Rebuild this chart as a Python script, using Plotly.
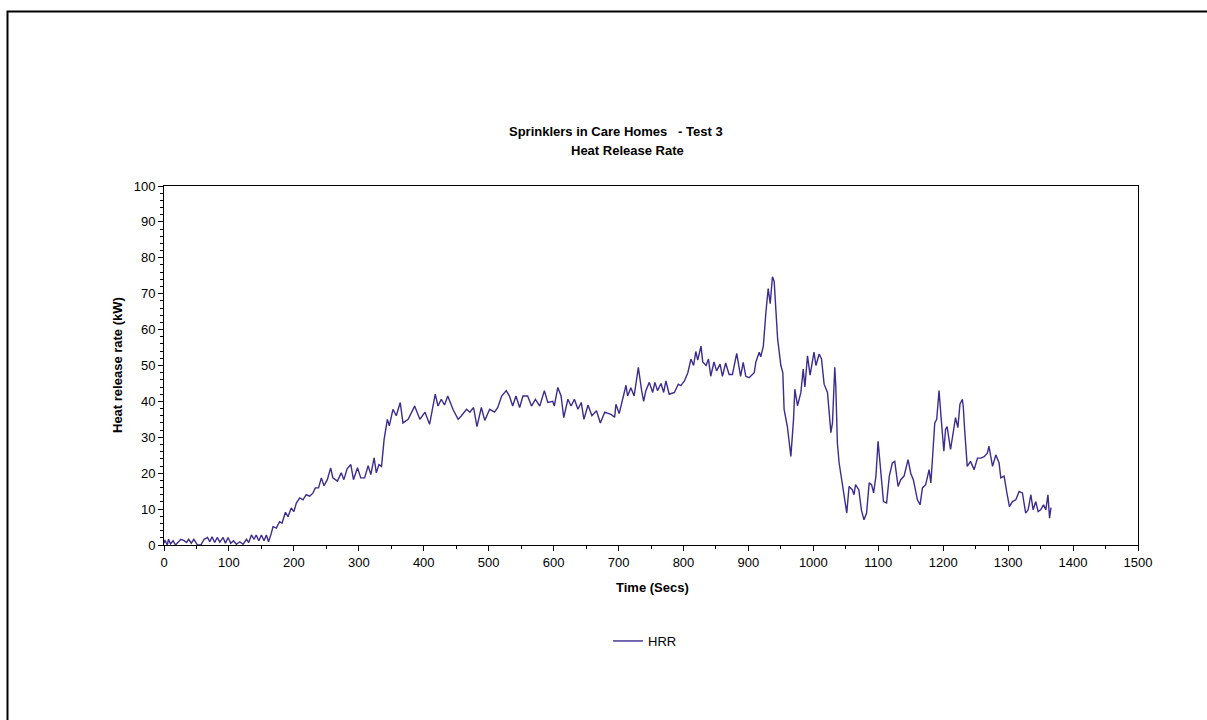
import plotly.graph_objects as go

time = [0, 1.3, 5, 7, 10, 14, 17.7, 26, 31, 34.6, 38, 42, 46, 51.6, 56.7, 61.8, 67, 70.5, 74, 78, 82, 86, 91, 94.6,
        98.7, 102.8, 107, 111.5, 116.7, 121.8, 127, 130.5, 134.6, 138.7, 142, 146, 150, 154, 157.7, 161, 165,
        167.9, 173, 178, 181.8, 187, 191, 196, 200, 203.8, 209, 214, 219, 224.4, 229.5, 233, 238, 242.3, 246.4,
        251.5, 256.7, 260, 267, 273, 277, 282, 287.7, 291.8, 298, 303, 309, 314.4, 318.5, 323.6, 327, 331, 335,
        339, 344, 347, 352.6, 357.7, 363.8, 368, 376, 386, 394, 402, 409, 417.7, 422, 427, 432, 437, 445, 453,
        458, 466, 471, 476.7, 482, 488.7, 494, 501.5, 509, 514, 520, 527, 532, 537, 542, 547.7, 552.8, 560, 566,
        572, 578.7, 585.8, 591, 598.7, 601, 606.5, 611.5, 615.6, 622, 627, 632, 637.5, 642.6, 646.7, 653, 659,
        666, 672, 678.7, 689, 694, 696, 701, 706.6, 711.5, 714, 719, 724, 730.5, 735.6, 738.7, 742, 747.4, 752.6,
        756, 760, 765.4, 769.5, 773, 778, 786, 792, 796, 801.5, 806.7, 811.5, 815.6, 819, 822, 827, 829.7, 834.8,
        838.5, 842, 847, 851, 856.4, 860, 865, 870.3, 875.4, 882, 885.6, 888, 892, 896, 901, 909, 911.5, 916.7,
        919, 923, 927, 930.5, 933.6, 937, 939.7, 945, 950, 953, 955, 960, 965.4, 969.5, 971.5, 975.6, 980.8,
        984.4, 987, 991, 995, 1001, 1004, 1009, 1012.6, 1016.6, 1021.8, 1027, 1029.5, 1033, 1034.6, 1037, 1039.7,
        1044.8, 1048.5, 1051.5, 1055, 1060, 1062.6, 1065, 1070, 1074, 1078, 1082, 1086, 1089.7, 1092.8, 1096.4,
        1099.7, 1104, 1108, 1112.8, 1117, 1121.8, 1125.4, 1130.5, 1134.6, 1139.7, 1145.9, 1150, 1154, 1160.3,
        1164.4, 1168, 1173, 1178.3, 1181, 1183.4, 1187, 1190, 1193.6, 1197, 1201, 1203.6, 1206, 1211.3, 1215.4,
        1219, 1222.6, 1225.8, 1229.5, 1231, 1233, 1237, 1242, 1247.7, 1252.8, 1258, 1263, 1268, 1270.5, 1276,
        1281, 1286, 1288.7, 1293.8, 1297.7, 1302, 1306.6, 1311.8, 1316.9, 1322, 1327, 1330.8, 1335, 1338.5,
        1342.6, 1346.2, 1350, 1354.5, 1358, 1361.3, 1363.8, 1366]

hrr = [0.5, 1.4, 0, 1.6, 0.3, 1.2, 0, 1.6, 1.2, 0.7, 1.6, 0.5, 1.6, 0, 0, 1.6, 2.1, 0.9, 2.3, 0.7, 2.1, 0.8, 2.1, 0.5,
       2.1, 0.5, 1.2, 0.2, 0.9, 0.2, 1.6, 0.7, 2.8, 1.6, 2.8, 1.2, 2.8, 1.2, 2.8, 0.9, 3.1,
       5.1, 4.7, 6.5, 6.1, 9.1, 7.9, 10.3, 9.3, 11.7, 13.1, 12.6, 14, 13.6, 14.5, 15.9, 15.9, 18.7, 16.5,
       18.2, 21.5, 18.7, 17.8, 20.1, 18.2, 21.2, 22.4, 18.2, 21.5, 18.7, 18.7, 22.1, 19.6, 24.3, 20.1, 22.4, 21.9,
       29.4, 35, 33.2, 37.8, 36, 39.7, 34, 35, 38.7, 35, 37, 33.6, 42, 38.7, 40.6, 39, 41.5, 37.8, 35,
       36, 37.8, 37, 38.3, 33, 38.3, 34.7, 37.8, 37, 38.3, 41.5, 43, 41.5, 38.7, 41.5, 38.3, 41.5, 41.5, 38.7,
       40.6, 38.7, 43, 39.7, 40, 38.7, 43.9, 41.5, 35.5, 40.6, 38.7, 40.6, 37.8, 39.7, 35, 39, 36,
       37.4, 34, 37, 36.3, 35.6, 39.2, 36.6, 40.6, 44.5, 41.5, 43.8, 41.5, 49.5, 43, 40, 43, 45.3, 42.5,
       45.3, 43, 45, 42.5, 45.7, 42, 42.5, 44.8, 44.4, 45.7, 48, 51.8, 50, 53.9, 51.5, 55.4, 51, 50,
       51.8, 47, 51, 48.5, 50.4, 47, 50.7, 47.5, 47.5, 53.4, 50, 47, 50.9, 47, 46.6, 48, 51, 53.7,
       52.4, 55.4, 64.9, 71.4, 67.2, 74.7, 73.4, 57.4, 50, 48, 37.8, 33, 24.7, 35, 43.4, 38.8, 42.5,
       49, 44, 52.7, 47.3, 53.7, 50, 53.2, 51.8, 44.8, 42.5, 31.3, 34, 49.5, 44.3, 28.5, 22.9,
       16.3, 11.7, 8.9, 16.3, 15.4, 14, 16.8, 15.4, 9.8, 7, 8.9, 17.3, 16.8, 14.5, 19.2,
       28.9, 20, 12.1, 11.7, 19.2, 22.9, 23.3, 16.3, 18.2, 19.2, 23.8, 20, 18.2, 12.6,
       11.2, 15.9, 16.8, 21, 17.3, 23.8, 34, 35, 43, 35, 26.1, 32.2, 33, 26.6, 30.8,
       35.5, 32.7, 39.2, 40.6, 38.3, 32.2, 21.9, 23.3, 21, 24.2, 24.2, 24.6, 25.6, 27.5, 21.9,
       25.1, 22.9, 18.7, 19.2, 14.9, 10.7, 12.1, 12.6, 14.9, 14.5, 8.9, 9.8, 14, 9.8,
       12.1, 9.3, 9.8, 11.2, 9.8, 14, 7.5, 10.4]

x_ticks = [0, 100, 200, 300, 400, 500, 600, 700, 800, 900, 1000, 1100, 1200, 1300, 1400, 1500]
y_ticks = [0, 10, 20, 30, 40, 50, 60, 70, 80, 90, 100]

FONT = "Liberation Sans, Arial, sans-serif"
LINE = "#3D2B8E"
FS = 13

fig = go.Figure()
fig.add_trace(go.Scatter(x=time, y=hrr, mode="lines", name="HRR",
                         line=dict(color=LINE, width=1.4)))

L, R, T, B = 164, 1207 - 1138, 186, 720 - 545
W, H = 1207 - L - R, 720 - T - B

def px(xp):
    return (xp - L) / W

def py(yp):
    return (720 - B - yp) / H

fig.update_layout(
    width=1207, height=720,
    margin=dict(l=L, r=R, t=T, b=B, pad=0),
    paper_bgcolor="white", plot_bgcolor="white",
    font=dict(family=FONT, size=FS, color="black"),
    showlegend=True,
    legend=dict(x=px(645), y=py(641), xanchor="center", yanchor="middle",
                orientation="h", font=dict(size=FS, family=FONT),
                bgcolor="rgba(0,0,0,0)", itemwidth=30),
    xaxis=dict(range=[0, 1500], tickvals=x_ticks, ticktext=[str(v) for v in x_ticks],
               showgrid=False, zeroline=False, showline=True, linecolor="black", linewidth=1,
               mirror=True, ticks="outside", ticklen=5, tickcolor="black",
               minor=dict(ticks="outside", ticklen=3, dtick=50, tickcolor="black"),
               tickfont=dict(size=FS, family=FONT), fixedrange=True),
    yaxis=dict(range=[0, 100], tickvals=y_ticks, ticktext=[str(v) for v in y_ticks],
               showgrid=False, zeroline=False, showline=True, linecolor="black", linewidth=1,
               mirror=True, ticks="outside", ticklen=5, tickcolor="black",
               minor=dict(ticks="outside", ticklen=3, dtick=2, tickcolor="black"),
               tickfont=dict(size=FS, family=FONT), fixedrange=True),
)

ann = [
    dict(text="<b>Sprinklers in Care Homes&nbsp;&nbsp;&nbsp;- Test 3</b>", x=px(616), y=py(131)),
    dict(text="<b>Heat Release Rate</b>", x=px(627), y=py(150)),
    dict(text="<b>Time (Secs)</b>", x=px(652), y=py(587)),
    dict(text="<b>Heat release rate (kW)</b>", x=px(117), y=py(365), textangle=-90),
]
for a in ann:
    fig.add_annotation(xref="paper", yref="paper", xanchor="center", yanchor="middle",
                       showarrow=False, font=dict(size=FS, family=FONT, color="black"), **a)

fig.add_shape(type="rect", xref="paper", yref="paper",
              x0=px(7.5), x1=px(1215), y0=py(11.5), y1=py(730),
              line=dict(color="black", width=2), fillcolor="rgba(0,0,0,0)", layer="above")

fig.write_html("out.html")
